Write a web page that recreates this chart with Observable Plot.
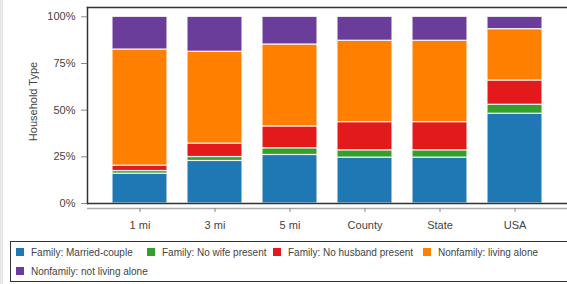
<!DOCTYPE html>
<html>
<head>
<meta charset="utf-8">
<script src="https://cdn.jsdelivr.net/npm/d3@7"></script>
<script src="https://cdn.jsdelivr.net/npm/@observablehq/plot@0.6"></script>
<style>
  html, body { margin: 0; padding: 0; background: #fff; }
  body { width: 567px; height: 284px; overflow: hidden; position: relative; font-family: "Liberation Sans", Arial, sans-serif; }
  #strip { position: absolute; left: 0; top: 0; width: 3px; height: 284px; background: #e8e8e8; }
  #legend { position: absolute; left: 10px; top: 241px; width: 570px; height: 41px; border: 1px solid #333; box-sizing: border-box; font-size: 10px; color: #444; }
  .item { position: absolute; display: flex; align-items: center; white-space: nowrap; }
  .sw { width: 8px; height: 8px; margin-right: 7px; }
</style>
</head>
<body>
<div id="strip"></div>
<div id="chart"></div>
<div id="legend"></div>
<script>
const areas = ["1 mi", "3 mi", "5 mi", "County", "State", "USA"];
const types = ["Family: Married-couple", "Family: No wife present", "Family: No husband present", "Nonfamily: living alone", "Nonfamily: not living alone"];
const colors = ["#1f77b4", "#33a02c", "#e31a1c", "#ff7f00", "#6a3d9a"];
const marriedCouple   = [16.0, 22.8, 26.0, 24.6, 24.6, 48.1];
const noWifePresent   = [1.4, 2.1, 3.6, 3.9, 3.9, 4.8];
const noHusbandPresent= [2.9, 7.2, 11.7, 15.1, 15.1, 13.0];
const livingAlone     = [62.2, 49.2, 43.9, 43.6, 43.6, 27.5];
const notLivingAlone  = [17.5, 18.7, 14.8, 12.8, 12.8, 6.6];
const yTicks = [0, 25, 50, 75, 100];

const series = [marriedCouple, noWifePresent, noHusbandPresent, livingAlone, notLivingAlone];
const data = [];
areas.forEach((a, i) => series.forEach((s, j) => data.push({area: a, type: types[j], value: s[i]})));

const chart = Plot.plot({
  width: 567,
  height: 236,
  marginLeft: 87,
  marginRight: 0,
  marginTop: 7,
  marginBottom: 33,
  style: {fontFamily: "'Liberation Sans', Arial, sans-serif", fontSize: "11px", color: "#444", background: "white"},
  x: {domain: areas, paddingInner: 0.272, paddingOuter: 0.315, label: null, axis: null},
  y: {domain: [0, 105], label: null, axis: null},
  color: {domain: types, range: colors},
  marks: [
    Plot.barY(data, {x: "area", y: "value", fill: "type", order: types, stroke: "white", strokeWidth: 1.2, strokeOpacity: 0.85}),
    Plot.frame({anchor: "left", stroke: "#333", strokeWidth: 1.5}),
    Plot.frame({anchor: "top", stroke: "#333", strokeWidth: 1.5}),
    Plot.frame({anchor: "bottom", stroke: "#333", strokeWidth: 1.5}),
    Plot.ruleY([0], {dy: 5, stroke: "#aaa", strokeWidth: 1.5}),
    Plot.axisX({anchor: "bottom", tickSize: 4, tickPadding: 9, dy: 5, stroke: "#888", fill: "#444", label: null}),
    Plot.axisY({anchor: "left", ticks: yTicks, tickFormat: d => d + "%", tickSize: 6, tickPadding: 6, stroke: "#888", fill: "#444", label: null}),
    Plot.text(["Household Type"], {frameAnchor: "left", dx: -54, dy: -4, rotate: -90, textAnchor: "middle", fill: "#444", fontSize: 11})
  ]
});
document.getElementById("chart").appendChild(chart);

const legend = document.getElementById("legend");
const pos = [[5, 4], [136, 4], [262, 4], [412, 4], [5, 23]];
types.forEach((t, i) => {
  const d = document.createElement("div");
  d.className = "item";
  d.style.left = pos[i][0] + "px";
  d.style.top = pos[i][1] + "px";
  d.style.height = "12px";
  d.innerHTML = `<div class="sw" style="background:${colors[i]}"></div><span>${t}</span>`;
  legend.appendChild(d);
});
</script>
</body>
</html>
